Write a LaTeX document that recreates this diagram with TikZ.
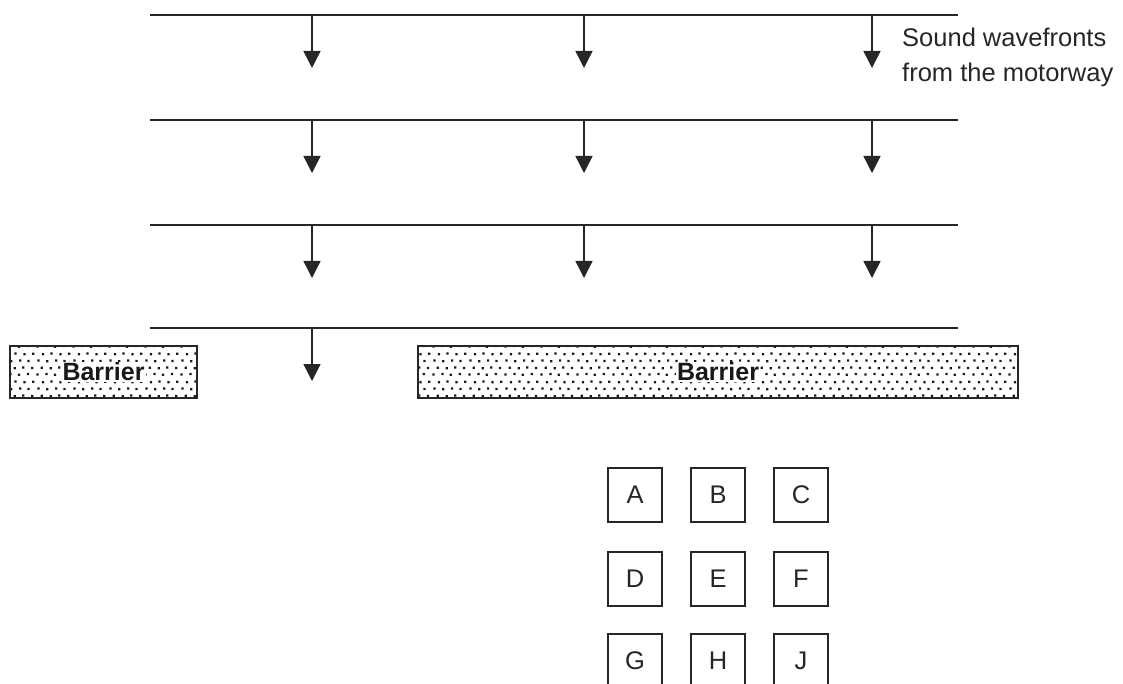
\documentclass[tikz,border=0pt]{standalone}
\usepackage{fontspec}
\setmainfont{Liberation Sans}
\usetikzlibrary{arrows.meta,patterns}
\newcommand{\bdot}[2]{\pgfpathrectangle{\pgfpoint{#1pt}{#2pt}}{\pgfpoint{2.3pt}{2.3pt}}}
\pgfdeclarepatternformonly{barrierdots}{\pgfpointorigin}{\pgfpoint{36pt}{28pt}}{\pgfpoint{36pt}{28pt}}{%
  \bdot{0.5}{0.3}\bdot{9.6}{0.8}\bdot{18.2}{0.1}\bdot{27.4}{0.9}%
  \bdot{4.8}{7.4}\bdot{13.9}{6.9}\bdot{22.6}{7.6}\bdot{31.8}{7.0}%
  \bdot{1.4}{14.6}\bdot{10.3}{14.0}\bdot{19.5}{14.8}\bdot{28.1}{14.2}%
  \bdot{6.0}{21.2}\bdot{14.7}{21.9}\bdot{24.0}{21.1}\bdot{32.9}{21.7}%
  \pgfusepath{fill}}
\tikzset{
  wave/.style={line width=2pt, draw=black!85},
  prop/.style={line width=1.5pt, draw=black!85, -{Triangle[width=17pt,length=17pt]}},
  barrier/.style={draw=black!85, line width=1.5pt, pattern=barrierdots, pattern color=black!90,
    rectangle, inner sep=0pt,
    label={[fill=white, inner sep=1.2pt, font=\fontsize{25}{30}\selectfont\bfseries, text=black!90]center:#1}},
  receiver/.style={draw=black!85, line width=2pt, rectangle, minimum width=54pt, minimum height=54pt,
    inner sep=0pt, font=\fontsize{25.5}{30}\selectfont, text=black!85},
  lbl/.style={font=\fontsize{25.5}{35}\selectfont, align=left, inner sep=0pt, text=black!85}
}
\begin{document}
\begin{tikzpicture}[x=1pt,y=-1pt]
\useasboundingbox (0,0) rectangle (1123,684);
\clip (0,0) rectangle (1123,684);
% wavefronts
\foreach \i/\y in {1/15,2/120,3/225,4/328}{
  \coordinate (L\i) at (150,\y);
  \coordinate (R\i) at (958,\y);
  \draw[wave] (L\i) -- (R\i);
}
% arrows
\foreach \i/\y in {1/15,2/120,3/225}{
  \foreach \j/\x in {a/312,b/584,c/872}{
    \coordinate (s\i\j) at (\x,\y);
    \coordinate (t\i\j) at (\x,\y+53);
    \draw[prop] (s\i\j) -- (t\i\j);
  }
}
\coordinate (s4a) at (312,328);
\coordinate (t4a) at (312,381);
\draw[prop] (s4a) -- (t4a);
% label
\node[lbl, anchor=north west] (label) at (902,28) {Sound wavefronts\\from the motorway};
% barriers
\node[barrier=Barrier, minimum width=187pt, minimum height=52pt] (barL) at (103.5,372) {};
\node[barrier=Barrier, minimum width=600pt, minimum height=52pt] (barR) at (718,372) {};
% receivers
\node[receiver] (A) at (635,495) {A};
\node[receiver] (B) at (718,495) {B};
\node[receiver] (C) at (801,495) {C};
\node[receiver] (D) at (635,578.5) {D};
\node[receiver] (E) at (718,578.5) {E};
\node[receiver] (F) at (801,578.5) {F};
\node[receiver] (G) at (635,661) {G};
\node[receiver] (H) at (718,661) {H};
\node[receiver] (J) at (801,661) {J};
\end{tikzpicture}
\end{document}
